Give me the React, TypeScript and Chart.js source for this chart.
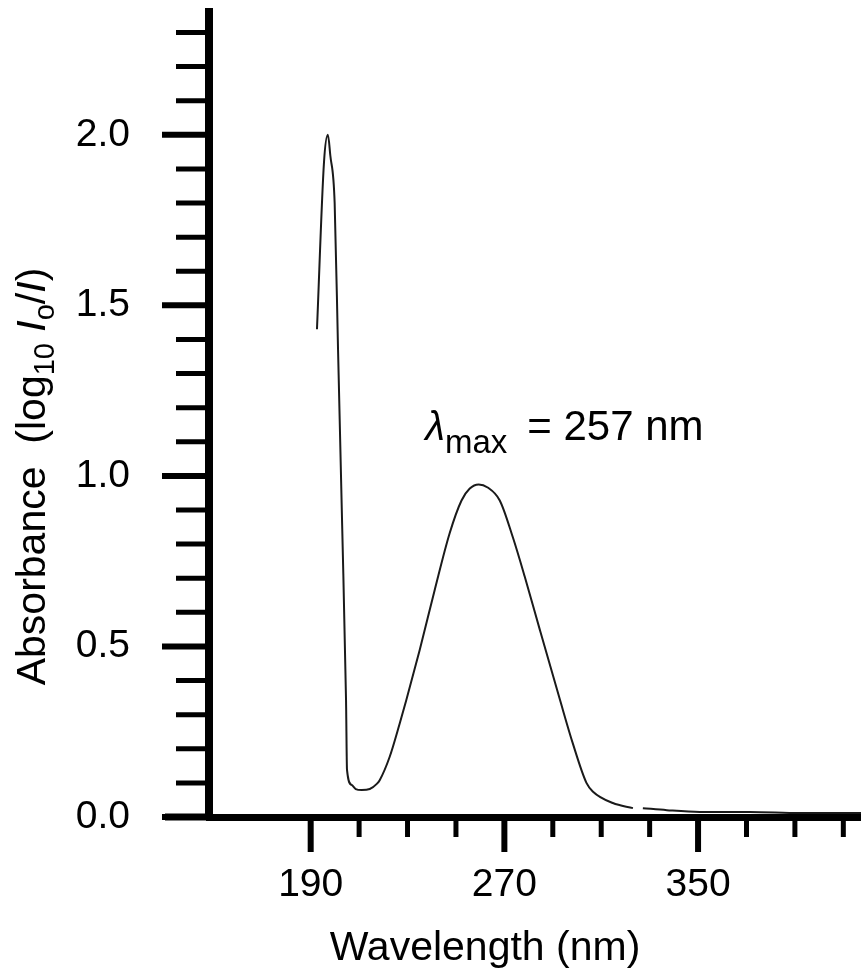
import React, { useEffect, useRef } from "react";
import { Chart, registerables } from "chart.js";

Chart.register(...registerables);

// ---- data ----
const WAVELENGTH_NM = [
  192.6, 195.5, 197.1, 198.1, 199.9, 201.3, 203.0, 204.6, 205.0, 206.9,
  208.6, 211.1, 214.4, 217.3, 218.5, 222.6, 226.8, 229.5, 235.0, 241.2,
  247.4, 252.3, 255.7, 259.4, 263.1, 268.1, 273.5, 278.4, 284.6, 292.9,
  298.3, 303.9, 306.5, 314.8, 323.1, 325.0, 327.2, 337.1, 350.7, 371.4,
  392.1, 417.3,
];
const ABSORBANCE = [
  1.43, 1.92, 2.0, 1.94, 1.8, 1.37, 0.855, 0.343, 0.138, 0.094,
  0.082, 0.079, 0.082, 0.097, 0.108, 0.176, 0.275, 0.343, 0.489, 0.665,
  0.832, 0.928, 0.963, 0.975, 0.966, 0.928, 0.82, 0.705, 0.55, 0.345,
  0.215, 0.1, 0.075, 0.041, 0.026, null, 0.026, 0.02, 0.015, 0.015,
  0.012, 0.012,
];

const X_TICKS = [190, 210, 230, 250, 270, 290, 310, 330, 350, 370, 390, 410];
const X_LABELS = [190, 270, 350];
const Y_TICKS = [
  0, 0.1, 0.2, 0.3, 0.4, 0.5, 0.6, 0.7, 0.8, 0.9, 1.0, 1.1,
  1.2, 1.3, 1.4, 1.5, 1.6, 1.7, 1.8, 1.9, 2.0, 2.1, 2.2, 2.3,
];
const Y_LABELS = [0, 0.5, 1.0, 1.5, 2.0];
const X_MIN = 148;
const X_MAX = 417.3;
const Y_MIN = 0;
const Y_MAX = 2.36;

const X_TITLE = "Wavelength (nm)";
const Y_TITLE_MAIN = "Absorbance  (log";
const Y_TITLE_SUB = "10";
const PEAK_SYMBOL = "\u03BB";
const PEAK_SUB = "max";
const PEAK_TEXT = "= 257 nm";
const PEAK_ANCHOR_NM = 237.3;
const PEAK_ANCHOR_ABS = 1.104;

const FONT = '"Liberation Sans", Arial, Helvetica, sans-serif';

const isIn = (arr: number[], v: number) => arr.some((m) => Math.abs(m - v) < 1e-6);

const decorPlugin = {
  id: "decor",
  afterDraw(chart: any) {
    const { ctx, chartArea } = chart;
    const xs = chart.scales.x;
    const ys = chart.scales.y;
    ctx.save();
    ctx.strokeStyle = "#000";
    ctx.lineCap = "butt";

    // y tick marks (minor + major)
    Y_TICKS.forEach((v) => {
      const py = ys.getPixelForValue(v);
      const major = isIn(Y_LABELS, v);
      ctx.lineWidth = major ? 6 : 5;
      ctx.beginPath();
      ctx.moveTo(chartArea.left - (major ? 47 : 33), py);
      ctx.lineTo(chartArea.left, py);
      ctx.stroke();
    });

    // x tick marks
    X_TICKS.forEach((v) => {
      const px = xs.getPixelForValue(v);
      const major = isIn(X_LABELS, v);
      ctx.lineWidth = major ? 6 : 5;
      ctx.beginPath();
      ctx.moveTo(px, chartArea.bottom);
      ctx.lineTo(px, chartArea.bottom + (major ? 35 : 20));
      ctx.stroke();
    });

    // x axis line extends a little left of the y axis
    ctx.lineWidth = 7;
    ctx.beginPath();
    ctx.moveTo(chartArea.left - 44, chartArea.bottom);
    ctx.lineTo(chartArea.left, chartArea.bottom);
    ctx.stroke();

    ctx.fillStyle = "#000";
    ctx.textBaseline = "alphabetic";

    // x title
    ctx.font = `41px ${FONT}`;
    ctx.textAlign = "center";
    ctx.fillText(X_TITLE, chartArea.left + 276, chartArea.bottom + 143);

    // y title (rotated, with subscripts and italics)
    ctx.textAlign = "left";
    const parts = [
      { t: Y_TITLE_MAIN, f: `41px ${FONT}`, dy: 0 },
      { t: Y_TITLE_SUB, f: `29px ${FONT}`, dy: 9 },
      { t: " ", f: `41px ${FONT}`, dy: 0 },
      { t: "I", f: `italic 41px ${FONT}`, dy: 0 },
      { t: "o", f: `29px ${FONT}`, dy: 9 },
      { t: "/", f: `41px ${FONT}`, dy: 0 },
      { t: "I", f: `italic 41px ${FONT}`, dy: 0 },
      { t: ")", f: `41px ${FONT}`, dy: 0 },
    ];
    let total = 0;
    parts.forEach((p) => {
      ctx.font = p.f;
      total += ctx.measureText(p.t).width;
    });
    ctx.save();
    ctx.translate(45, (chartArea.top + chartArea.bottom) / 2 + 62);
    ctx.rotate(-Math.PI / 2);
    let cx = -total / 2;
    parts.forEach((p) => {
      ctx.font = p.f;
      ctx.fillText(p.t, cx, p.dy);
      cx += ctx.measureText(p.t).width;
    });
    ctx.restore();

    // peak annotation
    const ax = xs.getPixelForValue(PEAK_ANCHOR_NM);
    const ay = ys.getPixelForValue(PEAK_ANCHOR_ABS);
    ctx.font = `italic 40px ${FONT}`;
    ctx.fillText(PEAK_SYMBOL, ax, ay);
    let px = ax + ctx.measureText(PEAK_SYMBOL).width;
    ctx.font = `33px ${FONT}`;
    ctx.fillText(PEAK_SUB, px, ay + 13);
    px += ctx.measureText(PEAK_SUB).width + 20;
    ctx.font = `42px ${FONT}`;
    ctx.fillText(PEAK_TEXT, px, ay);

    ctx.restore();
  },
};

export default function App() {
  const canvasRef = useRef<HTMLCanvasElement | null>(null);

  useEffect(() => {
    const canvas = canvasRef.current;
    if (!canvas) return;
    const points = WAVELENGTH_NM.map((x, i) => ({ x, y: ABSORBANCE[i] }));
    const chart = new Chart(canvas, {
      type: "line",
      data: {
        datasets: [
          {
            data: points as any,
            borderColor: "#1a1a1a",
            borderWidth: 2,
            pointRadius: 0,
            fill: false,
            cubicInterpolationMode: "monotone",
            spanGaps: false,
          },
        ],
      },
      options: {
        animation: false,
        responsive: true,
        maintainAspectRatio: false,
        events: [],
        layout: { padding: { top: 12, right: 0, bottom: 0, left: 0 } },
        plugins: { legend: { display: false }, tooltip: { enabled: false } },
        scales: {
          x: {
            type: "linear",
            position: "bottom",
            min: X_MIN,
            max: X_MAX,
            afterBuildTicks: (s: any) => {
              s.ticks = X_LABELS.map((v) => ({ value: v }));
            },
            afterFit: (s: any) => {
              s.height = 153;
              s.paddingLeft = 0;
              s.paddingRight = 0;
            },
            ticks: {
              autoSkip: false,
              maxRotation: 0,
              padding: 0,
              color: "#000",
              font: { family: FONT, size: 39 },
              callback: (v: any) => String(v),
            },
            grid: {
              drawOnChartArea: false,
              drawTicks: true,
              tickLength: 45,
              tickColor: "rgba(0,0,0,0)",
              color: "rgba(0,0,0,0)",
            },
            border: { display: true, color: "#000", width: 7 },
          },
          y: {
            type: "linear",
            min: Y_MIN,
            max: Y_MAX,
            afterBuildTicks: (s: any) => {
              s.ticks = Y_LABELS.map((v) => ({ value: v }));
            },
            afterFit: (s: any) => {
              s.width = 209;
              s.paddingTop = 0;
              s.paddingBottom = 0;
            },
            ticks: {
              autoSkip: false,
              padding: 0,
              color: "#000",
              font: { family: FONT, size: 39 },
              callback: (v: any) => Number(v).toFixed(1),
            },
            grid: {
              drawOnChartArea: false,
              drawTicks: true,
              tickLength: 79,
              tickColor: "rgba(0,0,0,0)",
              color: "rgba(0,0,0,0)",
            },
            border: { display: true, color: "#000", width: 8 },
          },
        },
      },
      plugins: [decorPlugin],
    });
    return () => chart.destroy();
  }, []);

  return (
    <div
      style={{
        position: "absolute",
        left: 0,
        top: 0,
        width: 861,
        height: 970,
        background: "#fff",
      }}
    >
      <canvas ref={canvasRef} />
    </div>
  );
}
